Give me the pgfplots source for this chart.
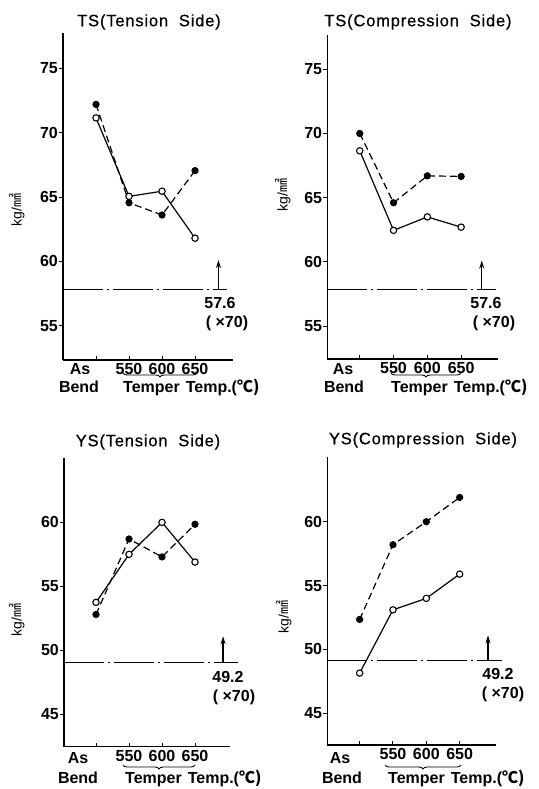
\documentclass[border=0pt]{standalone}
\usepackage{fontspec}
\setmainfont{Liberation Sans}
\newfontfamily\cjk{Noto Sans CJK JP}
\newfontfamily\titlefont[LetterSpace=5,FakeBold=0.6]{Liberation Sans}
\usepackage{pgfplots}
\pgfplotsset{compat=1.18}
\usetikzlibrary{arrows.meta,decorations.pathreplacing}

\newcommand{\tfont}{\fontsize{16}{18}\selectfont\bfseries}
\pgfplotsset{
  panel/.style={
    scale only axis, anchor=south west, clip=false,
    axis lines*=left, axis line style={line width=1.3pt},
    xtick={0,1,2,3}, xticklabels={,550,600,650},
    xtick align=inside, ytick align=outside,
    major tick length=4pt,
    tick style={line width=1pt, black},
    tick label style={font=\tfont},
    /pgf/number format/assume math mode=true,
    yticklabel style={inner sep=1pt},
    xticklabel style={inner sep=1pt, yshift=-2pt},
  },
  filled/.style={black, line width=1.2pt, dash pattern=on 7pt off 4pt,
    mark=*, mark size=3pt, mark options={solid, fill=black}},
  open/.style={black, line width=1.2pt, mark=*, mark size=3.2pt,
    mark options={solid, fill=white, line width=1.1pt}},
  refline/.style={black, line width=1pt, mark=none,
    dash pattern=on 40pt off 4pt on 2pt off 4pt},
}
\tikzset{upar/.style={-{Stealth[length=8pt,width=5pt]}, line width=1.4pt}}

\begin{document}
\begin{tikzpicture}
\useasboundingbox (0,0) rectangle (538pt,789pt);

% TS tension side
\begin{axis}[panel, at={(63pt,429pt)}, width=170pt, height=327pt,
  xmin=-1, xmax=4.15, ymin=52.33, ymax=77.75, ytick={55,60,65,70,75}]
\addplot[refline] coordinates {(-1,57.83) (3.97,57.83)};
\addplot[filled] coordinates {(0,72.2) (1,64.55) (2,63.6) (3,67.05)};
\addplot[open] coordinates {(0,71.15) (1,65.05) (2,65.45) (3,61.8)};
\draw[upar] (axis cs:3.71,57.83) -- (axis cs:3.71,60.1);
\end{axis}

% TS compression side
\begin{axis}[panel, at={(327.3pt,430pt)}, width=171pt, height=324pt,
  xmin=-0.96, xmax=4.1, ymin=52.43, ymax=77.67, ytick={55,60,65,70,75}]
\addplot[refline] coordinates {(-0.96,57.85) (4.04,57.85)};
\addplot[filled] coordinates {(0,70.0) (1,64.6) (2,66.7) (3,66.65)};
\addplot[open] coordinates {(0,68.65) (1,62.45) (2,63.5) (3,62.7)};
\draw[upar] (axis cs:3.61,57.85) -- (axis cs:3.61,60.1);
\end{axis}

% YS tension side
\begin{axis}[panel, at={(64pt,42.3pt)}, width=166pt, height=288.7pt,
  xmin=-0.97, xmax=4.06, ymin=42.47, ymax=65.03, ytick={45,50,55,60}]
\addplot[refline] coordinates {(-0.97,49.05) (4.29,49.05)};
\addplot[filled] coordinates {(0,52.8) (1,58.7) (2,57.3) (3,59.85)};
\addplot[open] coordinates {(0,53.75) (1,57.5) (2,60.0) (3,56.9)};
\draw[upar] (axis cs:3.85,49.05) -- (axis cs:3.85,51.1);
\end{axis}

% YS compression side
\begin{axis}[panel, at={(327.3pt,44pt)}, width=168.7pt, height=288.3pt,
  xmin=-0.97, xmax=4.09, ymin=42.52, ymax=65.09, ytick={45,50,55,60}]
\addplot[refline] coordinates {(-0.97,49.1) (4.28,49.1)};
\addplot[filled] coordinates {(0,52.35) (1,58.2) (2,60.0) (3,61.9)};
\addplot[open] coordinates {(0,48.15) (1,53.1) (2,54.0) (3,55.9)};
\draw[upar] (axis cs:3.85,49.1) -- (axis cs:3.85,51.1);
\end{axis}

% titles
\begin{scope}[every node/.style={font=\titlefont\fontsize{16.5}{18}\selectfont, inner sep=0pt}]
\node at (149pt,767pt) {TS(Tension\ \ Side)};
\node at (418pt,767pt) {TS(Compression\ \ Side)};
\node at (148pt,347pt) {YS(Tension\ \ Side)};
\node at (423pt,349pt) {YS(Compression\ \ Side)};
\end{scope}

% y labels
\begin{scope}[every node/.style={font=\fontsize{14}{16}\selectfont, rotate=90, inner sep=0pt}]
\node at (17pt,579pt) {kg/\cjk{㎟}};
\node at (283pt,594pt) {kg/\cjk{㎟}};
\node at (17pt,169pt) {kg/\cjk{㎟}};
\node at (284pt,172pt) {kg/\cjk{㎟}};
\end{scope}

% x labels, braces and reference values
\begin{scope}[every node/.style={font=\tfont, inner sep=0pt}]
\node at (80pt,420pt) {As};   \node at (79pt,402pt) {Bend};
\node at (343pt,420pt) {As};  \node at (344pt,402pt) {Bend};
\node at (78pt,31pt) {As};    \node at (78pt,11pt) {Bend};
\node at (340pt,31pt) {As};   \node at (342pt,11pt) {Bend};
\node[anchor=west] at (123pt,402pt) {Temper\hspace{6pt}Temp.(\cjk{℃})};
\node[anchor=west] at (391pt,402pt) {Temper\hspace{6pt}Temp.(\cjk{℃})};
\node[anchor=west] at (125pt,11pt) {Temper\hspace{6pt}Temp.(\cjk{℃})};
\node[anchor=west] at (388pt,11pt) {Temper\hspace{6pt}Temp.(\cjk{℃})};
\node at (220pt,486pt) {57.6}; \node at (227pt,466pt) {( ×70)};
\node at (486pt,486pt) {57.6}; \node at (494pt,466pt) {( ×70)};
\node at (228pt,112pt) {49.2}; \node at (234pt,92pt) {( ×70)};
\node at (498pt,115pt) {49.2}; \node at (503pt,95pt) {( ×70)};
\end{scope}
\begin{scope}[decoration={brace, mirror, amplitude=4pt}, line width=0.9pt]
\draw[decorate] (123pt,416pt) -- (197pt,416pt);
\draw[decorate] (391pt,416pt) -- (461pt,416pt);
\draw[decorate] (123pt,24pt) -- (195pt,24pt);
\draw[decorate] (385pt,24pt) -- (461pt,24pt);
\end{scope}
\end{tikzpicture}
\end{document}
